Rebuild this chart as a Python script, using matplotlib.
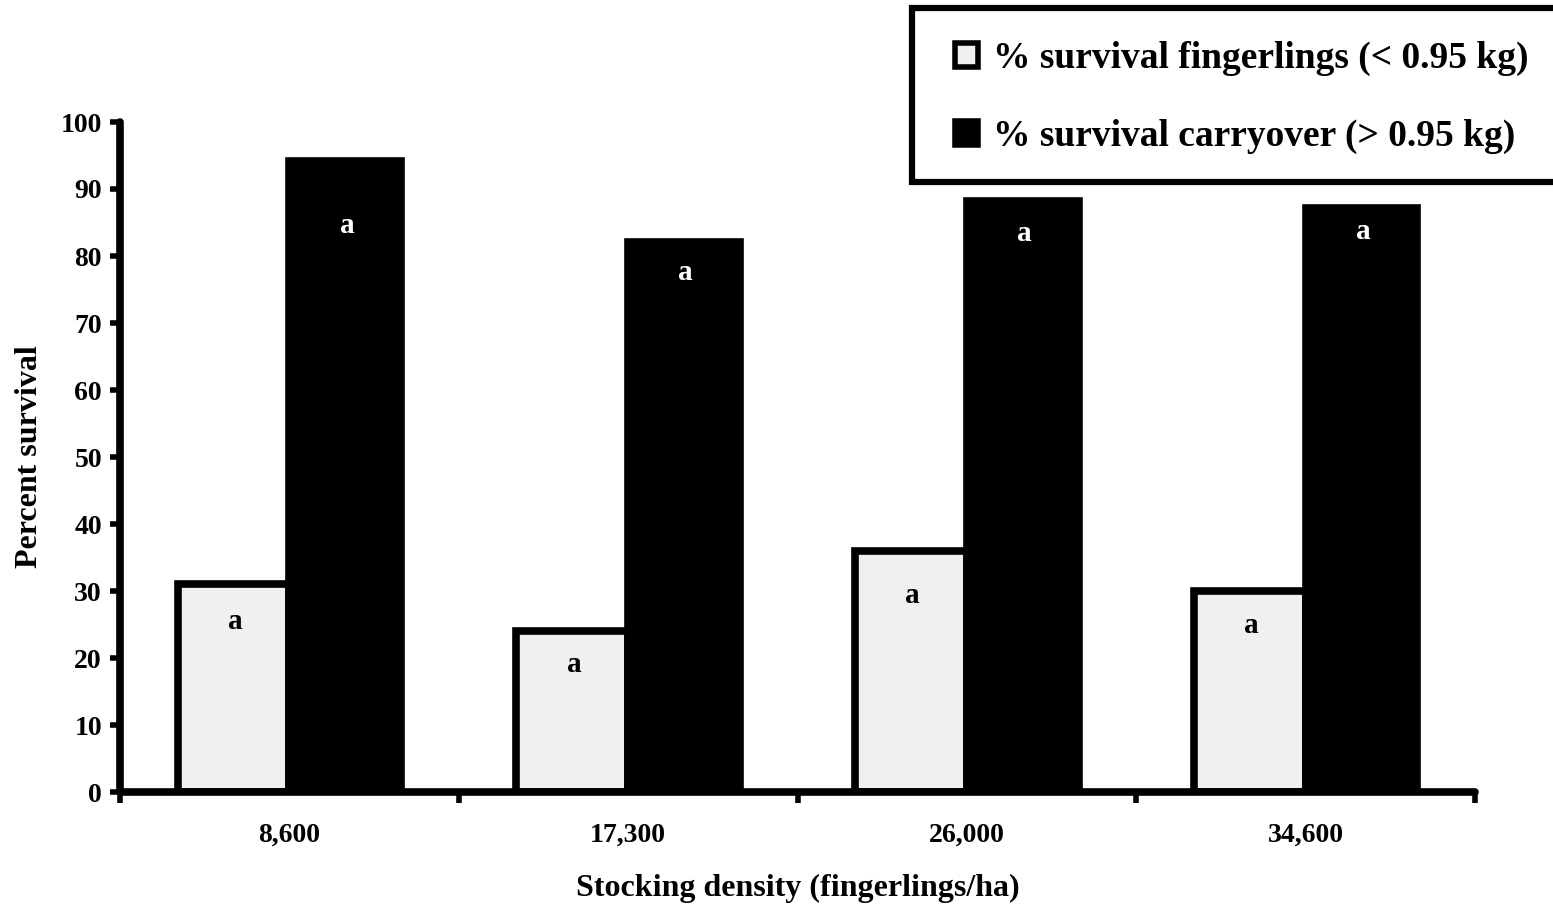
import matplotlib
matplotlib.use("Agg")
import matplotlib.pyplot as plt
from matplotlib.patches import Rectangle, Patch
import numpy as np

categories = ["8,600", "17,300", "26,000", "34,600"]
fingerlings = [31.0, 24.0, 36.0, 30.0]
carryover = [94.2, 82.1, 88.2, 87.2]
fing_letters = ["a", "a", "a", "a"]
carry_letters = ["a", "a", "a", "a"]
fing_letter_y = [25.4, 19.1, 29.4, 24.8]
carry_letter_y = [84.6, 77.5, 83.3, 83.6]

plt.rcParams['font.family'] = ['Liberation Serif', 'DejaVu Serif']
plt.rcParams['font.weight'] = 'bold'

fig = plt.figure(figsize=(15.53, 9.05), dpi=100)
ax = fig.add_axes([120/1553, 1-792/905, (1475-120)/1553, (792-122)/905])

x = np.arange(len(categories))
w = 0.33
lw = 5.5
ax.bar(x - w/2, fingerlings, w, color='#f0f0f0', edgecolor='black', linewidth=lw, zorder=2)
ax.bar(x + w/2, carryover, w, color='black', edgecolor='black', linewidth=lw, zorder=2)

for xi, yv, t in zip(x, fing_letter_y, fing_letters):
    ax.text(xi - w/2 + 0.005, yv, t, ha='center', va='center', fontsize=21, fontweight='bold', color='black', zorder=3)
for xi, yv, t in zip(x, carry_letter_y, carry_letters):
    ax.text(xi + w/2 + 0.005, yv, t, ha='center', va='center', fontsize=21, fontweight='bold', color='white', zorder=3)

ax.set_xlim(-0.5, len(categories) - 0.5)
ax.set_ylim(0, 100)
ax.set_yticks(np.arange(0, 101, 10))
ax.set_xticks(np.arange(-0.5, len(categories), 1.0), minor=False)
ax.set_xticklabels([])
ax.set_xticks(x, minor=True)
ax.set_xticklabels(categories, minor=True)
ax.tick_params(axis='x', which='major', direction='out', length=8, width=4)
ax.tick_params(axis='x', which='minor', length=0, pad=22, labelsize=20)
ax.tick_params(axis='y', direction='out', length=7, width=4, labelsize=20, pad=6)
for lab in ax.get_xticklabels(minor=True) + ax.get_yticklabels():
    lab.set_fontweight('bold')

for s in ['top', 'right']:
    ax.spines[s].set_visible(False)
for s in ['left', 'bottom']:
    ax.spines[s].set_linewidth(lw)
    ax.spines[s].set_capstyle('round')

ax.set_xlabel("Stocking density (fingerlings/ha)", fontsize=23, fontweight='bold', labelpad=19)
ax.set_ylabel("Percent survival", fontsize=23, fontweight='bold', labelpad=12)

# legend box
rect = Rectangle((912/1553, 1-182/905), 0.5, 174/905, transform=fig.transFigure,
                 facecolor='white', edgecolor='black', linewidth=4.5, zorder=5, clip_on=False)
fig.patches.append(rect)
handles = [Patch(facecolor='#f0f0f0', edgecolor='black', linewidth=4, label='% survival fingerlings (< 0.95 kg)'),
           Patch(facecolor='black', edgecolor='black', linewidth=4, label='% survival carryover (> 0.95 kg)')]
leg = fig.legend(handles=handles, loc='upper left', bbox_to_anchor=(955/1553, 1-41/905),
                 frameon=False, prop={'weight': 'bold', 'size': 27},
                 handlelength=0.62, handleheight=0.62, handletextpad=0.4, labelspacing=1.15,
                 borderpad=0, borderaxespad=0)
leg.set_zorder(6)

fig.savefig("out.png", dpi=100)
